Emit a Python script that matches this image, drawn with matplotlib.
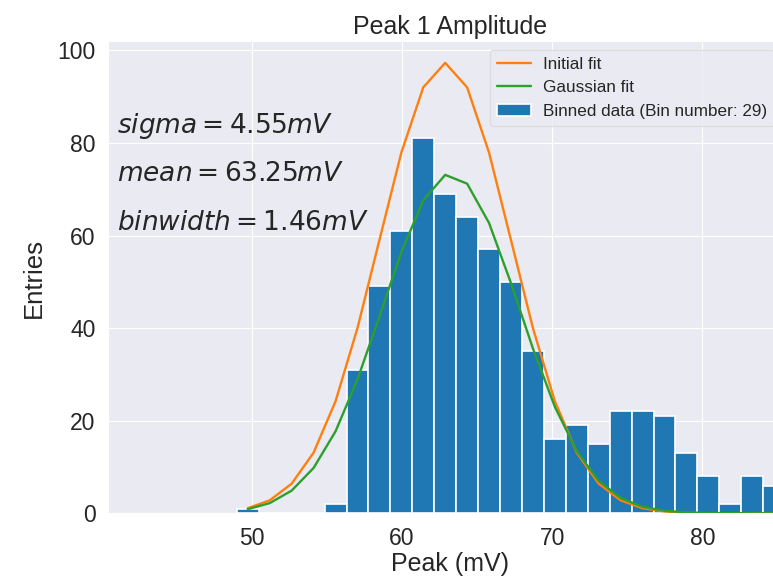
import numpy as np
import matplotlib
matplotlib.use("Agg")
from matplotlib import pyplot as plt

# histogram of the peak amplitude (29 bins, 1.46 mV wide)
bin_start = 49.01
bin_width = 1.46
counts = [1, 0, 0, 0, 2, 31, 49, 61, 81, 69, 64, 57, 50, 35, 16,
          19, 15, 22, 22, 21, 13, 8, 2, 8, 6, 4, 2, 1, 1]

# fit curves evaluated at the bin centres
initial_fit = [1.1, 2.8, 6.4, 13.1, 24.2, 40.0, 59.0, 77.9, 92.0, 97.3,
               92.0, 77.9, 59.0, 40.0, 24.2, 13.1, 6.4, 2.8, 1.1, 0.4,
               0.1, 0.0, 0.0, 0.0, 0.0, 0.0, 0.0, 0.0, 0.0]
gauss_fit = [0.9, 2.2, 4.9, 9.8, 17.7, 28.9, 42.5, 56.4, 67.6, 73.1,
             71.2, 62.7, 49.7, 35.6, 23.0, 13.4, 7.0, 3.3, 1.4, 0.55,
             0.2, 0.06, 0.02, 0.0, 0.0, 0.0, 0.0, 0.0, 0.0]

sigma = 4.55
mean = 63.25


def main():
    plt.style.use("seaborn-v0_8-darkgrid")
    plt.rcParams["font.family"] = ["Liberation Sans", "DejaVu Sans"]
    plt.rcParams["mathtext.fontset"] = "dejavusans"

    edges = bin_start + bin_width * np.arange(len(counts) + 1)
    centres = edges[:-1] + bin_width / 2

    fig = plt.figure(figsize=(7.73, 5.80), dpi=100)
    ax = fig.add_axes([0.1414, 0.115, 0.8815, 0.8126])

    ax.hist(centres, bins=edges, weights=counts, color="#1f77b4",
            edgecolor="white", linewidth=1.2,
            label="Binned data (Bin number: %d)" % len(counts))
    ax.plot(centres, initial_fit, color="#ff7f0e", lw=1.7, label="Initial fit")
    ax.plot(centres, gauss_fit, color="#2ca02c", lw=1.7, label="Gaussian fit")

    ax.set_xlim(40.52, 85.88)
    ax.set_ylim(0, 101.8)
    ax.set_xticks([50, 60, 70, 80])
    ax.set_yticks([0, 20, 40, 60, 80, 100])
    ax.tick_params(labelsize=16.5, pad=10, length=0, colors="#262626")

    ax.set_title("Peak 1 Amplitude", fontsize=18, color="#262626")
    ax.set_xlabel("Peak (mV)", fontsize=18, color="#262626", labelpad=1)
    ax.set_ylabel("Entries", fontsize=18.5, color="#262626", labelpad=8)

    ax.text(41.03, 82.1, r"$sigma = %.2f mV$" % sigma, fontsize=19, va="baseline")
    ax.text(41.03, 71.7, r"$mean = %.2f mV$" % mean, fontsize=19, va="baseline")
    ax.text(41.03, 61.2, r"$binwidth = %.2f mV$" % bin_width, fontsize=19,
            va="baseline")

    handles, labels = ax.get_legend_handles_labels()
    leg = ax.legend(handles[1:] + handles[:1], labels[1:] + labels[:1],
                    loc="upper left", bbox_to_anchor=(490 / 773, 1 - 50 / 580),
                    bbox_transform=fig.transFigure, borderaxespad=0,
                    frameon=True, fontsize=12.3, handletextpad=0.7)
    leg.get_frame().set_edgecolor("0.85")

    fig.savefig("out.png", dpi=100)


if __name__ == "__main__":
    main()
